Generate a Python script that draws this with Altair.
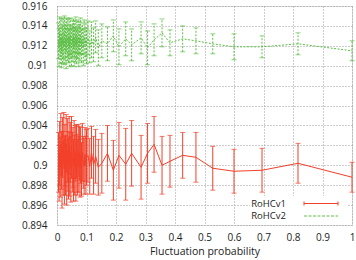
import altair as alt
import pandas as pd

# Fluctuation probability (shared x positions)
x_vals = [0.005, 0.007, 0.009, 0.011, 0.013, 0.015, 0.017, 0.019, 0.021, 0.023,
          0.025, 0.027, 0.029, 0.031, 0.033, 0.035, 0.037, 0.039, 0.041, 0.043,
          0.045, 0.047, 0.049, 0.052,
          0.054, 0.056, 0.058, 0.060, 0.062, 0.064, 0.066, 0.068, 0.070, 0.072,
          0.074, 0.076, 0.078, 0.080, 0.083, 0.086, 0.089, 0.092, 0.095, 0.098, 0.100,
          0.105, 0.111, 0.117, 0.124, 0.131, 0.140, 0.152,
          0.171, 0.191, 0.210, 0.233, 0.253, 0.285, 0.307, 0.329, 0.356, 0.383,
          0.426, 0.471, 0.528, 0.600, 0.695, 0.817, 1.000]

v1_mean = [0.9003, 0.8992, 0.9012, 0.8998, 0.9021, 0.9005, 0.8990, 0.9018, 0.9002, 0.9025,
           0.8995, 0.9010, 0.9000, 0.9022, 0.8993, 0.9015, 0.9004, 0.8997, 0.9020, 0.9001,
           0.9013, 0.8996, 0.9018, 0.9003,
           0.9008, 0.8995, 0.9016, 0.9000, 0.9012, 0.8994, 0.9014, 0.9002, 0.8998, 0.9015,
           0.9001, 0.9012, 0.8997, 0.9010, 0.8996, 0.9013, 0.9003, 0.8999, 0.9011, 0.9000, 0.9008,
           0.9010, 0.8999, 0.9013, 0.9000, 0.9009, 0.8998, 0.9002,
           0.9012, 0.8995, 0.9010, 0.9001, 0.9012, 0.8998, 0.9012, 0.9021, 0.9000, 0.9004,
           0.9010, 0.9008, 0.8997, 0.8994, 0.8995, 0.9002, 0.8988]
v1_err = [0.0030, 0.0028, 0.0032, 0.0030, 0.0031, 0.0029, 0.0033, 0.0030, 0.0032, 0.0028,
          0.0034, 0.0031, 0.0030, 0.0029, 0.0033, 0.0032, 0.0030, 0.0031, 0.0029, 0.0032,
          0.0030, 0.0033, 0.0031, 0.0030,
          0.0030, 0.0031, 0.0029, 0.0030, 0.0028, 0.0030, 0.0027, 0.0029, 0.0028, 0.0026,
          0.0028, 0.0027, 0.0029, 0.0028, 0.0027, 0.0029, 0.0026, 0.0028, 0.0027, 0.0029, 0.0028,
          0.0027, 0.0028, 0.0026, 0.0029, 0.0027, 0.0028, 0.0030,
          0.0028, 0.0030, 0.0033, 0.0036, 0.0033, 0.0032, 0.0030, 0.0028, 0.0029, 0.0026,
          0.0023, 0.0025, 0.0022, 0.0022, 0.0022, 0.0020, 0.0015]

v2_mean = [0.9125, 0.9118, 0.9132, 0.9120, 0.9128, 0.9115, 0.9130, 0.9122, 0.9127, 0.9119,
           0.9133, 0.9121, 0.9126, 0.9117, 0.9131, 0.9123, 0.9128, 0.9120, 0.9129, 0.9118,
           0.9130, 0.9124, 0.9119, 0.9127,
           0.9122, 0.9130, 0.9118, 0.9127, 0.9121, 0.9131, 0.9119, 0.9126, 0.9123, 0.9129,
           0.9117, 0.9128, 0.9122, 0.9130, 0.9120, 0.9127, 0.9118, 0.9129, 0.9121, 0.9126, 0.9120,
           0.9128, 0.9119, 0.9126, 0.9121, 0.9129, 0.9118, 0.9125,
           0.9122, 0.9130, 0.9119, 0.9127, 0.9121, 0.9128, 0.9118, 0.9126, 0.9133, 0.9123,
           0.9127, 0.9125, 0.9122, 0.9119, 0.9119, 0.9122, 0.9115]
v2_err = [0.0018, 0.0019, 0.0017, 0.0018, 0.0019, 0.0017, 0.0018, 0.0019, 0.0020, 0.0018,
          0.0017, 0.0019, 0.0018, 0.0020, 0.0017, 0.0018, 0.0019, 0.0017, 0.0018, 0.0019,
          0.0018, 0.0017, 0.0019, 0.0018,
          0.0018, 0.0017, 0.0019, 0.0018, 0.0017, 0.0018, 0.0017, 0.0018, 0.0016, 0.0017,
          0.0018, 0.0016, 0.0017, 0.0018, 0.0017, 0.0016, 0.0018, 0.0017, 0.0016, 0.0017, 0.0018,
          0.0017, 0.0016, 0.0018, 0.0017, 0.0016, 0.0018, 0.0017,
          0.0017, 0.0016, 0.0018, 0.0017, 0.0016, 0.0016, 0.0017, 0.0016, 0.0014, 0.0013,
          0.0013, 0.0013, 0.0010, 0.0013, 0.0011, 0.0011, 0.0010]

x_ticks = [0, 0.1, 0.2, 0.3, 0.4, 0.5, 0.6, 0.7, 0.8, 0.9, 1.0]
y_ticks = [0.894, 0.896, 0.898, 0.9, 0.902, 0.904, 0.906, 0.908, 0.91, 0.912, 0.914, 0.916]

RED = "#f2402a"
GREEN = "#5cbf45"
FONT = "Open Sans"

rows = []
for x, m, e in zip(x_vals, v1_mean, v1_err):
    rows.append({"x": x, "y": m, "lo": m - e, "hi": m + e, "s": "RoHCv1"})
for x, m, e in zip(x_vals, v2_mean, v2_err):
    rows.append({"x": x, "y": m, "lo": m - e, "hi": m + e, "s": "RoHCv2"})
df = pd.DataFrame(rows)

xscale = alt.Scale(domain=[0, 1], nice=False, zero=False)
yscale = alt.Scale(domain=[0.894, 0.916], nice=False, zero=False)

xax = alt.Axis(values=x_ticks, format=".1~f", title="Fluctuation probability",
               grid=True, gridDash=[1, 2], gridColor="#9a9a9a", ticks=False,
               domain=False, labelPadding=7, labelFont=FONT, labelFontSize=10,
               labelColor="#222", titleFont=FONT, titleFontSize=10.5,
               titleFontWeight="normal", titleColor="#222", titlePadding=4,
               labelFlush=False, labelOverlap=False)
yax = alt.Axis(values=y_ticks, format=".3~f", title=None,
               grid=True, gridDash=[1, 2], gridColor="#9a9a9a", ticks=False,
               domain=False, labelPadding=10, labelFont=FONT, labelFontSize=10,
               labelColor="#222", labelFlush=False, labelOverlap=False)

base = alt.Chart(df)
X = alt.X("x:Q", scale=xscale, axis=xax, title="Fluctuation probability")


def Yf(field):
    return alt.Y(field, scale=yscale, axis=yax, title=None)


def series(name, color, dash):
    d = base.transform_filter(alt.datum.s == name)
    extra = {"strokeDash": dash} if dash else {}
    line = d.mark_line(color=color, strokeWidth=1, **extra).encode(x=X, y=Yf("y:Q"))
    bars = d.mark_rule(color=color, strokeWidth=1, **extra).encode(
        x=X, y=Yf("lo:Q"), y2="hi:Q")
    cap_lo = d.mark_tick(color=color, orient="horizontal", size=5, thickness=1).encode(
        x=X, y=Yf("lo:Q"))
    cap_hi = d.mark_tick(color=color, orient="horizontal", size=5, thickness=1).encode(
        x=X, y=Yf("hi:Q"))
    return [bars, cap_lo, cap_hi, line]


layers = series("RoHCv2", GREEN, [2, 1.5]) + series("RoHCv1", RED, None)

# manual key (gnuplot style, opaque)
key_bg = alt.Chart().mark_rect(color="white").encode(
    x=alt.value(193), x2=alt.value(290), y=alt.value(190), y2=alt.value(218))
key_t1 = alt.Chart().mark_text(align="right", baseline="middle", font=FONT,
                               fontSize=9.5, color="#222", text="RoHCv1").encode(
    x=alt.value(229), y=alt.value(197.5))
key_t2 = alt.Chart().mark_text(align="right", baseline="middle", font=FONT,
                               fontSize=9.5, color="#222", text="RoHCv2").encode(
    x=alt.value(229), y=alt.value(210))
key_l1 = alt.Chart().mark_rule(color=RED, strokeWidth=1).encode(
    x=alt.value(247), x2=alt.value(281), y=alt.value(197.5))
key_c1a = alt.Chart().mark_rule(color=RED, strokeWidth=1).encode(
    x=alt.value(247), y=alt.value(195.5), y2=alt.value(199.5))
key_c1b = alt.Chart().mark_rule(color=RED, strokeWidth=1).encode(
    x=alt.value(281), y=alt.value(195.5), y2=alt.value(199.5))
key_l2 = alt.Chart().mark_rule(color=GREEN, strokeWidth=1, strokeDash=[3, 1.5]).encode(
    x=alt.value(247), x2=alt.value(281), y=alt.value(210))

chart = alt.layer(*layers, key_bg, key_t1, key_t2, key_l1, key_c1a, key_c1b, key_l2).properties(
    width=295, height=219,
    autosize=alt.AutoSizeParams(type="none"),
    padding={"left": 57, "top": 6, "right": 4, "bottom": 35},
).configure_view(stroke="#222", strokeWidth=1).configure(background="white")

chart.save("out.html", embed_options={"renderer": "svg", "actions": False})
